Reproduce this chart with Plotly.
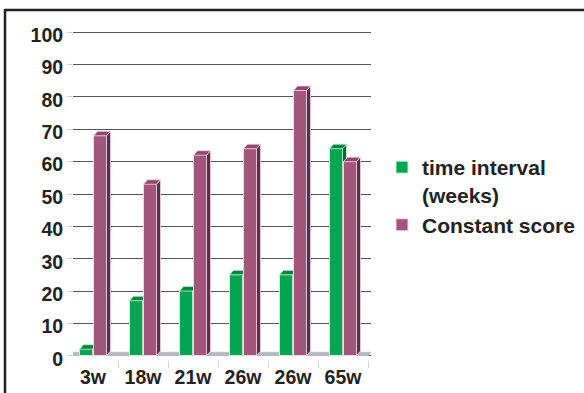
import plotly.graph_objects as go

# Data
categories = ["3w", "18w", "21w", "26w", "26w", "65w"]
time_interval = [2, 17, 20, 25, 25, 64]
constant_score = [68, 53, 62, 64, 82, 60]
y_ticks = [0, 10, 20, 30, 40, 50, 60, 70, 80, 90, 100]

# Pseudo-3D bar geometry (data units)
BAR_W = 0.26
OFFSET = 0.14
DX, DY = 0.08, 1.4

GREEN = dict(front="#00a651", side="#006a34", top="#00853f", edge="#c9efd6")
PURPLE = dict(front="#a3567b", side="#5f2b49", top="#94486d", edge="#f0d6e3")

# Plot-area pixel layout
W, H = 584, 393
L, R, T, B = 73, 371, 25, 360
X_RANGE = [-0.4, 5.56]
Y_RANGE = [-1.33, 102.26]


def faces(centers, values):
    """Side and top face polygons for each bar, separated by None."""
    sx, sy, tx, ty = [], [], [], []
    for c, v in zip(centers, values):
        r = c + BAR_W / 2
        l = c - BAR_W / 2
        sx += [r, r + DX, r + DX, r, r, None]
        sy += [0, DY, v + DY, v, 0, None]
        tx += [l, l + DX, r + DX, r, l, None]
        ty += [v, v + DY, v + DY, v, v, None]
    return sx, sy, tx, ty


def add_series(fig, name, values, shift, col, xa, ya):
    centers = [i + shift for i in range(len(values))]
    fig.add_trace(go.Bar(
        x=centers, y=values, width=BAR_W, name=name,
        marker=dict(color=col["front"], line=dict(color=col["edge"], width=1)),
        xaxis=xa, yaxis=ya, legendgroup=name,
    ))
    sx, sy, tx, ty = faces(centers, values)
    for px, py, fc in ((sx, sy, col["side"]), (tx, ty, col["top"])):
        fig.add_trace(go.Scatter(
            x=px, y=py, fill="toself", fillcolor=fc, mode="lines",
            line=dict(color=col["edge"], width=0.8), hoverinfo="skip",
            showlegend=False, xaxis=xa, yaxis=ya,
        ))


fig = go.Figure()
add_series(fig, "time interval<br>(weeks)", time_interval, -OFFSET, GREEN, "x", "y")
add_series(fig, "Constant score", constant_score, OFFSET, PURPLE, "x2", "y2")

n = len(categories)
font_family = "Liberation Sans, Arial, sans-serif"

# floor slab under the bars
floor = dict(type="path", xref="x", yref="y", layer="between",
             path=f"M {-0.5},0 L {n - 0.5},0 L {n - 0.5 + DX},{DY * 0.8} L {-0.5 + DX},{DY * 0.8} Z",
             fillcolor="#b4b9bf", line=dict(color="#cdd1d5", width=0.6))


def px_x(p):
    return (p - L) / (R - L)


def px_y(p):
    return (B - p) / (B - T)


frame = [
    dict(type="line", xref="paper", yref="paper", x0=px_x(5), x1=px_x(W + 5),
         y0=px_y(10), y1=px_y(10), line=dict(color="#222222", width=2.5)),
    dict(type="line", xref="paper", yref="paper", x0=px_x(5), x1=px_x(5),
         y0=px_y(9), y1=px_y(H + 5), line=dict(color="#222222", width=2.5)),
]

tick_font = dict(size=19.5, weight="bold", color="#222222")

fig.update_layout(
    width=W, height=H,
    margin=dict(l=L, r=W - R, t=T, b=H - B, autoexpand=False),
    paper_bgcolor="white", plot_bgcolor="white",
    barmode="overlay", bargap=0,
    font=dict(family=font_family, color="#222222"),
    shapes=[floor] + frame,
    xaxis=dict(
        range=X_RANGE, tickmode="array", tickvals=list(range(n)), ticktext=categories,
        showgrid=False, zeroline=False, showline=False, ticks="", automargin=False,
        tickfont=tick_font, ticklabelstandoff=3,
        minor=dict(tick0=0.5, dtick=1, ticks="outside", ticklen=7,
                   tickcolor="#d4d4d4", showgrid=False),
    ),
    yaxis=dict(
        range=Y_RANGE, tickmode="array", tickvals=y_ticks, automargin=False,
        showgrid=True, gridcolor="#555555", gridwidth=1.3, zeroline=False,
        showline=False, ticks="outside", ticklen=5, tickcolor="#d0d0d0",
        tickfont=tick_font, ticklabelshift=3,
    ),
    xaxis2=dict(range=X_RANGE, overlaying="x", visible=False),
    yaxis2=dict(range=Y_RANGE, overlaying="y", visible=False),
    legend=dict(
        x=px_x(382), y=px_y(147), xanchor="left", yanchor="top",
        font=dict(size=21, weight="bold", color="#222222"),
        valign="top", traceorder="normal", bgcolor="rgba(0,0,0,0)",
    ),
    showlegend=True,
)

fig.write_html("out.html")
